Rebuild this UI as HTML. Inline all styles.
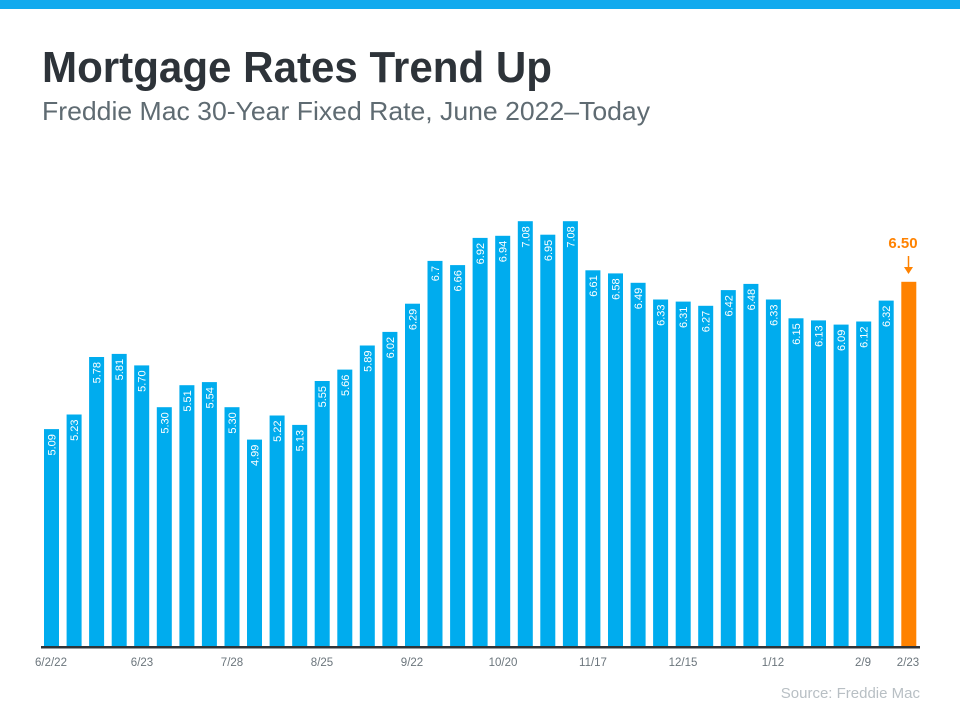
<!DOCTYPE html>
<html><head><meta charset="utf-8"><style>
html,body{margin:0;padding:0;background:#fff;}
svg{display:block;font-family:"Liberation Sans",sans-serif;}
</style></head><body>
<svg width="960" height="720" viewBox="0 0 960 720" xmlns="http://www.w3.org/2000/svg">
<rect x="0" y="0" width="960" height="9" fill="#12aaee"/>
<text x="42" y="82" font-size="44" font-weight="bold" fill="#2d3339" textLength="510" lengthAdjust="spacingAndGlyphs">Mortgage Rates Trend Up</text>
<text x="42" y="120" font-size="26" fill="#5f6b72" textLength="608" lengthAdjust="spacingAndGlyphs">Freddie Mac 30-Year Fixed Rate, June 2022–Today</text>
<g fill="#00acee">
<rect x="44.0" y="429.1" width="15" height="217.9"/>
<rect x="66.6" y="414.5" width="15" height="232.5"/>
<rect x="89.1" y="357.0" width="15" height="290.0"/>
<rect x="111.7" y="353.9" width="15" height="293.1"/>
<rect x="134.2" y="365.4" width="15" height="281.6"/>
<rect x="156.8" y="407.2" width="15" height="239.8"/>
<rect x="179.4" y="385.2" width="15" height="261.8"/>
<rect x="201.9" y="382.1" width="15" height="264.9"/>
<rect x="224.5" y="407.2" width="15" height="239.8"/>
<rect x="247.0" y="439.6" width="15" height="207.4"/>
<rect x="269.6" y="415.5" width="15" height="231.5"/>
<rect x="292.2" y="424.9" width="15" height="222.1"/>
<rect x="314.7" y="381.0" width="15" height="266.0"/>
<rect x="337.3" y="369.6" width="15" height="277.4"/>
<rect x="359.8" y="345.5" width="15" height="301.5"/>
<rect x="382.4" y="331.9" width="15" height="315.1"/>
<rect x="405.0" y="303.7" width="15" height="343.3"/>
<rect x="427.5" y="260.9" width="15" height="386.1"/>
<rect x="450.1" y="265.1" width="15" height="381.9"/>
<rect x="472.6" y="237.9" width="15" height="409.1"/>
<rect x="495.2" y="235.8" width="15" height="411.2"/>
<rect x="517.8" y="221.2" width="15" height="425.8"/>
<rect x="540.3" y="234.7" width="15" height="412.3"/>
<rect x="562.9" y="221.2" width="15" height="425.8"/>
<rect x="585.4" y="270.3" width="15" height="376.7"/>
<rect x="608.0" y="273.4" width="15" height="373.6"/>
<rect x="630.6" y="282.8" width="15" height="364.2"/>
<rect x="653.1" y="299.5" width="15" height="347.5"/>
<rect x="675.7" y="301.6" width="15" height="345.4"/>
<rect x="698.2" y="305.8" width="15" height="341.2"/>
<rect x="720.8" y="290.1" width="15" height="356.9"/>
<rect x="743.4" y="283.9" width="15" height="363.1"/>
<rect x="765.9" y="299.5" width="15" height="347.5"/>
<rect x="788.5" y="318.3" width="15" height="328.7"/>
<rect x="811.0" y="320.4" width="15" height="326.6"/>
<rect x="833.6" y="324.6" width="15" height="322.4"/>
<rect x="856.2" y="321.5" width="15" height="325.5"/>
<rect x="878.7" y="300.6" width="15" height="346.4"/>
</g>
<rect x="901.3" y="281.8" width="15" height="365.2" fill="#ff8200"/>
<g font-size="11" fill="#fff" text-anchor="end">
<text transform="translate(55.5,434.1) rotate(-90)">5.09</text>
<text transform="translate(78.1,419.5) rotate(-90)">5.23</text>
<text transform="translate(100.6,362.0) rotate(-90)">5.78</text>
<text transform="translate(123.2,358.9) rotate(-90)">5.81</text>
<text transform="translate(145.7,370.4) rotate(-90)">5.70</text>
<text transform="translate(168.3,412.2) rotate(-90)">5.30</text>
<text transform="translate(190.9,390.2) rotate(-90)">5.51</text>
<text transform="translate(213.4,387.1) rotate(-90)">5.54</text>
<text transform="translate(236.0,412.2) rotate(-90)">5.30</text>
<text transform="translate(258.5,444.6) rotate(-90)">4.99</text>
<text transform="translate(281.1,420.5) rotate(-90)">5.22</text>
<text transform="translate(303.7,429.9) rotate(-90)">5.13</text>
<text transform="translate(326.2,386.0) rotate(-90)">5.55</text>
<text transform="translate(348.8,374.6) rotate(-90)">5.66</text>
<text transform="translate(371.3,350.5) rotate(-90)">5.89</text>
<text transform="translate(393.9,336.9) rotate(-90)">6.02</text>
<text transform="translate(416.5,308.7) rotate(-90)">6.29</text>
<text transform="translate(439.0,265.9) rotate(-90)">6.7</text>
<text transform="translate(461.6,270.1) rotate(-90)">6.66</text>
<text transform="translate(484.1,242.9) rotate(-90)">6.92</text>
<text transform="translate(506.7,240.8) rotate(-90)">6.94</text>
<text transform="translate(529.3,226.2) rotate(-90)">7.08</text>
<text transform="translate(551.8,239.7) rotate(-90)">6.95</text>
<text transform="translate(574.4,226.2) rotate(-90)">7.08</text>
<text transform="translate(596.9,275.3) rotate(-90)">6.61</text>
<text transform="translate(619.5,278.4) rotate(-90)">6.58</text>
<text transform="translate(642.1,287.8) rotate(-90)">6.49</text>
<text transform="translate(664.6,304.5) rotate(-90)">6.33</text>
<text transform="translate(687.2,306.6) rotate(-90)">6.31</text>
<text transform="translate(709.7,310.8) rotate(-90)">6.27</text>
<text transform="translate(732.3,295.1) rotate(-90)">6.42</text>
<text transform="translate(754.9,288.9) rotate(-90)">6.48</text>
<text transform="translate(777.4,304.5) rotate(-90)">6.33</text>
<text transform="translate(800.0,323.3) rotate(-90)">6.15</text>
<text transform="translate(822.5,325.4) rotate(-90)">6.13</text>
<text transform="translate(845.1,329.6) rotate(-90)">6.09</text>
<text transform="translate(867.7,326.5) rotate(-90)">6.12</text>
<text transform="translate(890.2,305.6) rotate(-90)">6.32</text>
</g>
<rect x="41" y="646" width="879" height="2.5" fill="#2f3438"/>
<g font-size="11.5" fill="#6b757c" text-anchor="middle">
<text x="51" y="666">6/2/22</text>
<text x="142" y="666">6/23</text>
<text x="232" y="666">7/28</text>
<text x="322" y="666">8/25</text>
<text x="412" y="666">9/22</text>
<text x="503" y="666">10/20</text>
<text x="593" y="666">11/17</text>
<text x="683" y="666">12/15</text>
<text x="773" y="666">1/12</text>
<text x="863" y="666">2/9</text>
<text x="908" y="666">2/23</text>
</g>
<text x="920" y="698" font-size="15" fill="#b8bfc4" text-anchor="end">Source: Freddie Mac</text>
<text x="903" y="248" font-size="15" font-weight="bold" fill="#ff8200" text-anchor="middle">6.50</text>
<line x1="908.5" y1="256" x2="908.5" y2="268" stroke="#ff8200" stroke-width="1.5"/>
<polygon points="904,267 913,267 908.5,274" fill="#ff8200"/>
</svg>
</body></html>
